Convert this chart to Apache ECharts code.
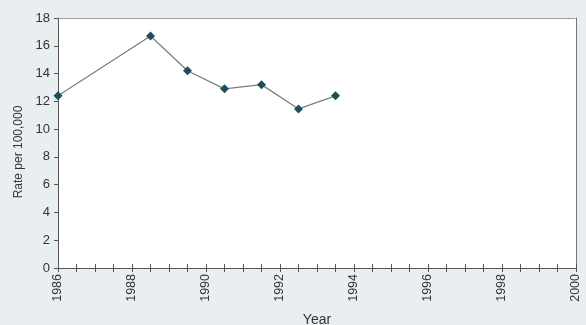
<!DOCTYPE html>
<html><head><meta charset="utf-8">
<script src="https://cdn.jsdelivr.net/npm/echarts@6/dist/echarts.min.js"></script>
<style>html,body{margin:0;padding:0;background:#e9eef0;}#c{width:586px;height:325px;}</style>
</head><body><div id="c"></div>
<script>
const years = [1986, 1988.5, 1989.5, 1990.5, 1991.5, 1992.5, 1993.5];
const rates = [12.4, 16.7, 14.2, 12.9, 13.2, 11.45, 12.4];
const xTicks = [1986, 1988, 1990, 1992, 1994, 1996, 1998, 2000];
const yTicks = [0, 2, 4, 6, 8, 10, 12, 14, 16, 18];

const font = 'Liberation Sans, Arial, sans-serif';
const axisCol = '#555';
const chart = echarts.init(document.getElementById('c'));
chart.setOption({
  backgroundColor: '#e9eef0',
  animation: false,
  grid: {left: 58, right: 10, top: 18, bottom: 57, show: true, backgroundColor: '#ffffff', borderWidth: 0,
         outerBoundsMode: 'none', containLabel: false},
  xAxis: [{
    type: 'value', min: xTicks[0], max: xTicks[xTicks.length-1], interval: 2,
    name: 'Year', nameLocation: 'middle', nameGap: 45,
    nameTextStyle: {fontFamily: font, fontSize: 14, color: '#333'},
    axisLine: {lineStyle: {color: axisCol, width: 1}},
    axisTick: {show: true, length: 4, lineStyle: {color: axisCol}},
    minorTick: {show: true, splitNumber: 4, length: 4, lineStyle: {color: axisCol}},
    splitLine: {show: false},
    axisLabel: {rotate: 90, fontFamily: font, fontSize: 12.5, color: '#333', margin: 6, formatter: v => String(v)}
  }, {
    type: 'value', min: xTicks[0], max: xTicks[xTicks.length-1], interval: 2, position: 'bottom',
    axisLine: {show: false},
    axisTick: {show: true, inside: true, length: 4, lineStyle: {color: axisCol}},
    minorTick: {show: true, splitNumber: 4, length: 4, lineStyle: {color: axisCol}},
    axisLabel: {show: false}, splitLine: {show: false}
  }, {
    type: 'value', min: xTicks[0], max: xTicks[xTicks.length-1], position: 'top',
    axisLine: {show: true, lineStyle: {color: '#888', type: 'dotted', width: 1}},
    axisTick: {show: false}, axisLabel: {show: false}, splitLine: {show: false}
  }],
  yAxis: [{
    type: 'value', min: yTicks[0], max: yTicks[yTicks.length-1], interval: 2,
    name: 'Rate per 100,000', nameLocation: 'middle', nameGap: 33,
    nameTextStyle: {fontFamily: font, fontSize: 12, color: '#333', padding: [0, 0, 0, -18]},
    axisLine: {show: true, lineStyle: {color: axisCol, width: 1}},
    axisTick: {show: true, length: 4, lineStyle: {color: axisCol}},
    splitLine: {show: false},
    axisLabel: {fontFamily: font, fontSize: 13, color: '#333', margin: 8}
  }, {
    type: 'value', min: yTicks[0], max: yTicks[yTicks.length-1], position: 'right',
    axisLine: {show: true, lineStyle: {color: '#777', width: 1}},
    axisTick: {show: false}, axisLabel: {show: false}, splitLine: {show: false}
  }],
  series: [{
    type: 'line',
    data: years.map((y, i) => [y, rates[i]]),
    symbol: 'diamond', symbolSize: 9,
    lineStyle: {color: '#7a8080', width: 1.3},
    itemStyle: {color: '#1e4d5c'}
  }]
});
</script></body></html>
